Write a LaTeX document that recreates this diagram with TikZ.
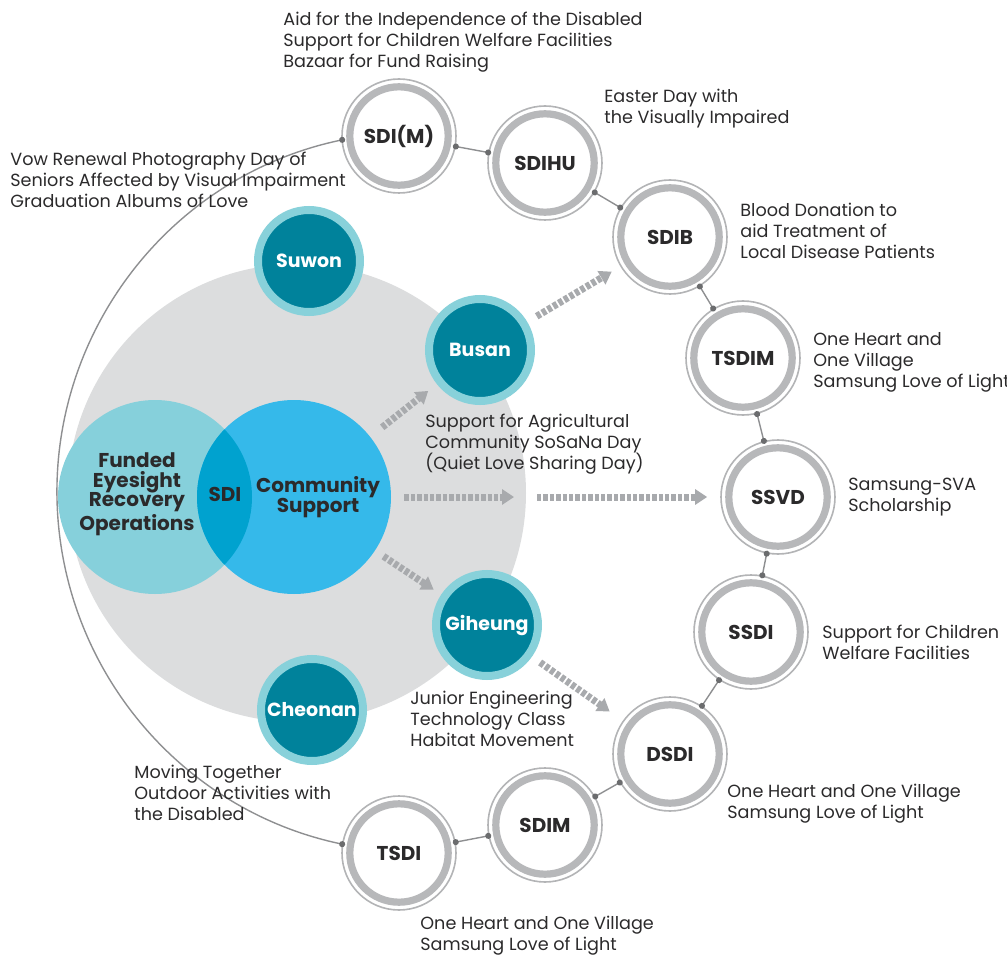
\documentclass[tikz,border=0pt]{standalone}
\usepackage{fontspec}
\setsansfont{Poppins}
\usepackage{xcolor}
\usepackage{tikz}
\usetikzlibrary{arrows.meta, positioning, calc}

\definecolor{discgray}{HTML}{DCDDDE}
\definecolor{ringgray}{HTML}{B7B8BA}
\definecolor{ringline}{HTML}{B3B4B6}
\definecolor{linkgray}{HTML}{8E8F91}
\definecolor{dotgray}{HTML}{6B6C6E}
\definecolor{arrowgray}{HTML}{A8AAAD}
\definecolor{teallight}{HTML}{88D1DA}
\definecolor{tealdark}{HTML}{00829B}
\definecolor{vennleft}{HTML}{86D0DB}
\definecolor{vennright}{HTML}{35B9EA}
\definecolor{vennmid}{HTML}{00A2CF}
\definecolor{textdark}{HTML}{2B2A2B}

\tikzset{
  ringnode/.style={
    circle, draw=ringline, line width=0.8pt, fill=white,
    minimum size=57pt, inner sep=0pt, text=textdark,
    font=\sffamily\bfseries\fontsize{10}{12}\selectfont,
    path picture={\draw[ringgray, line width=3.6pt]
      (path picture bounding box.center) circle (24.6pt);}
  },
  citynode/.style={
    circle, draw=teallight, line width=4pt, fill=tealdark,
    minimum size=51pt, inner sep=0pt, text=white,
    font=\sffamily\bfseries\fontsize{9.5}{12}\selectfont
  },
  venncircle/.style={
    circle, minimum size=97pt, inner sep=0pt
  },
  venntext/.style={
    align=center, inner sep=0pt, text=textdark,
    font=\sffamily\bfseries\fontsize{10}{9.8}\selectfont
  },
  ringlink/.style={
    draw=linkgray, line width=0.7pt,
    {Circle[length=3pt, color=dotgray, fill=dotgray]}-{Circle[length=3pt, color=dotgray, fill=dotgray]},
    shorten <=-1.5pt, shorten >=-1.5pt
  },
  flowarrow/.style={
    draw=arrowgray, line width=3.5pt, dash pattern=on 2.2pt off 1pt,
    -{Triangle[length=6pt, width=7.5pt]}
  },
  actlabel/.style={
    anchor=north west, align=left, inner sep=0pt, text=textdark,
    font=\sffamily\fontsize{8.8}{10.5}\selectfont
  },
}

\begin{document}
\begin{tikzpicture}[x=0.5pt, y=0.5pt]
  \useasboundingbox (0,0) rectangle (1007,-957);

  % ---- Background disc ----
  \node[circle, fill=discgray, minimum size=229pt, inner sep=0pt] (hub) at (297,-493) {};

  % ---- Outer ring of offices ----
  \coordinate (ringctr) at (417,-492);
  \node[ringnode] (sdi-m) at (399,-136) {SDI(M)};
  \node[ringnode] (sdihu) at (545,-163) {SDIHU};
  \node[ringnode] (sdib)  at (670,-237) {SDIB};
  \node[ringnode] (tsdim) at (743,-358) {TSDIM};
  \node[ringnode] (ssvd)  at (778,-497) {SSVD};
  \node[ringnode] (ssdi)  at (751,-632) {SSDI};
  \node[ringnode] (dsdi)  at (670,-754) {DSDI};
  \node[ringnode] (sdim)  at (545,-825) {SDIM};
  \node[ringnode] (tsdi)  at (399,-853) {TSDI};

  % links between neighbours
  \draw[ringlink] (sdi-m) -- (sdihu);
  \draw[ringlink] (sdihu) -- (sdib);
  \draw[ringlink] (sdib) -- (tsdim);
  \draw[ringlink] (tsdim) -- (ssvd);
  \draw[ringlink] (ssvd) -- (ssdi);
  \draw[ringlink] (ssdi) -- (dsdi);
  \draw[ringlink] (dsdi) -- (sdim);
  \draw[ringlink] (sdim) -- (tsdi);

  % big arc closing the ring on the left
  \coordinate (arcstart) at ($(ringctr)+(102:360)$);
  \draw[ringlink] (arcstart) arc[start angle=102, end angle=258, radius=360];

  % ---- Venn: SDI ----
  \node[venncircle, fill=vennleft] (eye) at (155,-497) {};
  \node[venncircle, fill=vennright] (comm) at (294,-497) {};
  \begin{scope}
    \clip (eye.center) circle (97);
    \fill[vennmid] (comm.center) circle (97);
  \end{scope}
  \node[venntext] (eyetext) at (137,-494) {Funded\\Eyesight\\Recovery\\Operations};
  \node[venntext] (sditext) at (225,-494) {SDI};
  \node[venntext] (commtext) at (318,-497) {Community\\Support};

  % ---- Sites ----
  \node[citynode] (suwon)   at (309,-261) {Suwon};
  \node[citynode] (busan)   at (480,-350) {Busan};
  \node[citynode] (giheung) at (487,-625) {Giheung};
  \node[citynode] (cheonan) at (312,-710) {Cheonan};

  % ---- Flow arrows ----
  \coordinate (split) at (522,-497);
  \draw[flowarrow, shorten <=7.5pt, shorten >=5.5pt] (comm) -- (busan);
  \draw[flowarrow, shorten <=5.5pt, shorten >=5pt] (busan) -- (sdib);
  \draw[flowarrow, shorten <=6.5pt, shorten >=4pt] (comm) -- (split);
  \draw[flowarrow, shorten <=7.5pt, shorten >=6.5pt] (split) -- (ssvd);
  \draw[flowarrow, shorten <=5pt, shorten >=4.5pt] (comm) -- (giheung);
  \draw[flowarrow, shorten <=5pt, shorten >=8pt] (giheung) -- (dsdi);

  % ---- Activity labels ----
  \node[actlabel] (lsdim) at (283,-12)
    {Aid for the Independence of the Disabled\\Support for Children Welfare Facilities\\Bazaar for Fund Raising};
  \node[actlabel] (lsdihu) at (604,-89)
    {Easter Day with\\the Visually Impaired};
  \node[actlabel] (leye) at (10,-152)
    {Vow Renewal Photography Day of\\Seniors Affected by Visual Impairment\\Graduation Albums of Love};
  \node[actlabel] (lsdib) at (740,-203)
    {Blood Donation to\\aid Treatment of\\Local Disease Patients};
  \node[actlabel] (ltsdim) at (813,-332)
    {One Heart and\\One Village\\Samsung Love of Light};
  \node[actlabel] (lbusan) at (425,-414)
    {Support for Agricultural\\Community SoSaNa Day\\(Quiet Love Sharing Day)};
  \node[actlabel] (lssvd) at (848,-478)
    {Samsung-SVA\\Scholarship};
  \node[actlabel] (lssdi) at (822,-625)
    {Support for Children\\Welfare Facilities};
  \node[actlabel] (lgiheung) at (410,-691)
    {Junior Engineering\\Technology Class\\Habitat Movement};
  \node[actlabel] (ldsdi) at (727,-784)
    {One Heart and One Village\\Samsung Love of Light};
  \node[actlabel] (lcheonan) at (134,-765)
    {Moving Together\\Outdoor Activities with\\the Disabled};
  \node[actlabel] (ltsdi) at (420,-916)
    {One Heart and One Village\\Samsung Love of Light};
\end{tikzpicture}
\end{document}
